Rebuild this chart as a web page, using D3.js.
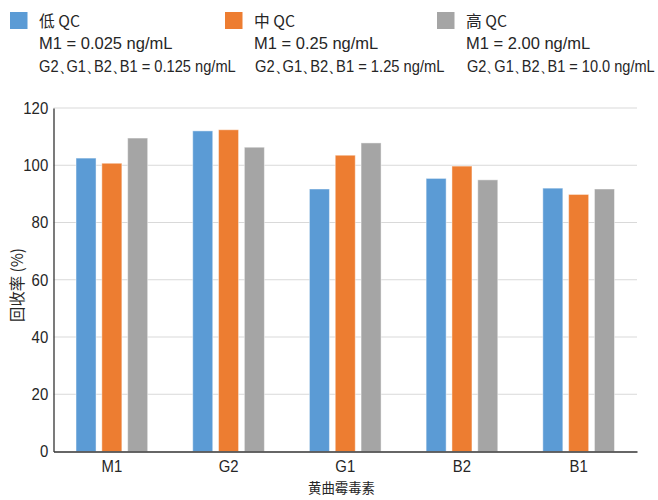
<!DOCTYPE html>
<html>
<head>
<meta charset="utf-8">
<script src="https://cdn.jsdelivr.net/npm/d3@7"></script>
<style>
  html, body { margin: 0; padding: 0; background: #fff; }
  svg { display: block; }
  .cond { font-family: "Liberation Sans", "Arial", sans-serif; }
  .cjk { font-family: "Noto Sans CJK SC", "Noto Sans", sans-serif; }
</style>
</head>
<body>
<svg id="chart" width="658" height="500"></svg>
<script>
// Toxins on the x axis
const categories = ["M1", "G2", "G1", "B2", "B1"];

// Recovery (%) per QC level
const lowQC  = [102.5, 112.0, 91.7, 95.4, 92.0];
const midQC  = [100.7, 112.4, 103.5, 99.7, 89.8];
const highQC = [109.5, 106.3, 107.8, 94.9, 91.7];

const seriesNames = ["低 QC", "中 QC", "高 QC"];
const seriesColors = ["#5B9BD5", "#ED7D31", "#A5A5A5"];
const seriesLine2 = ["M1 = 0.025 ng/mL", "M1 = 0.25 ng/mL", "M1 = 2.00 ng/mL"];
const seriesLine3 = ["G2、G1、B2、B1 = 0.125 ng/mL", "G2、G1、B2、B1 = 1.25 ng/mL", "G2、G1、B2、B1 = 10.0 ng/mL"];

const yTicks = [0, 20, 40, 60, 80, 100, 120];
const xTitle = "黄曲霉毒素";
const yTitle = "回收率 (%)";

const series = [lowQC, midQC, highQC];

const svg = d3.select("#chart");
const margin = { left: 53.5, right: 21, top: 108, bottom: 48.5 };
const W = 658, H = 500;
const plotW = W - margin.left - margin.right;
const plotH = H - margin.top - margin.bottom;
const textColor = "#262626";

// Squeeze a text horizontally so it spans the given width
function squeeze(sel, width, tx, ty, rot) {
  sel.each(function (d, i) {
    const w = typeof width === "function" ? width(d, i) : width;
    const natural = this.getComputedTextLength();
    const s = Math.min(1, w / natural);
    const px = typeof tx === "function" ? tx(d, i) : tx;
    d3.select(this).attr("transform",
      `translate(${px},${ty})` + (rot ? ` rotate(${rot})` : "") + ` scale(${s},1)`);
  });
}

const g = svg.append("g").attr("transform", `translate(${margin.left},${margin.top})`);

const x = d3.scaleBand().domain(categories).range([0, plotW]).paddingInner(0).paddingOuter(0);
const x1 = d3.scaleBand().domain(d3.range(series.length)).range([x.bandwidth() * 0.193, x.bandwidth() * 0.807]).paddingInner(0.225);
const y = d3.scaleLinear().domain([0, 120]).range([plotH, 0]);

// Horizontal gridlines
g.append("g")
  .selectAll("line")
  .data(yTicks.filter(t => t > 0))
  .join("line")
  .attr("x1", 0).attr("x2", plotW)
  .attr("y1", d => y(d)).attr("y2", d => y(d))
  .attr("stroke", "#d9d9d9").attr("stroke-width", 1.2);

// Bars
const groups = g.append("g")
  .selectAll("g")
  .data(categories)
  .join("g")
  .attr("transform", d => `translate(${x(d)},0)`);

groups.selectAll("rect")
  .data((d, i) => series.map((s, k) => ({ k, v: s[i] })))
  .join("rect")
  .attr("x", d => x1(d.k))
  .attr("width", x1.bandwidth())
  .attr("y", d => y(d.v))
  .attr("height", d => y(0) - y(d.v))
  .attr("fill", d => seriesColors[d.k])
  .attr("stroke", "#ffffff")
  .attr("stroke-opacity", 0.45)
  .attr("stroke-width", 1);

// Y axis (narrow lettering via horizontal scale)
const yAxis = g.append("g")
  .call(d3.axisLeft(y).tickValues(yTicks).tickSize(0).tickPadding(6));
yAxis.select(".domain").attr("stroke", "#333").attr("stroke-width", 1.3);
yAxis.selectAll("text")
  .attr("class", "cond")
  .attr("font-size", 17)
  .attr("fill", textColor)
  .attr("transform", "scale(0.88,1)");

// X axis
const xAxis = g.append("g")
  .attr("transform", `translate(0,${plotH})`)
  .call(d3.axisBottom(x).tickSize(0).tickPadding(9));
xAxis.select(".domain").attr("stroke", "#333").attr("stroke-width", 1.3);
xAxis.selectAll("text")
  .attr("class", "cond")
  .attr("font-size", 16)
  .attr("fill", textColor)
  .attr("transform", "scale(0.93,1)");

// Axis titles
svg.append("text")
  .attr("class", "cjk")
  .attr("text-anchor", "middle")
  .attr("font-size", 14)
  .attr("fill", textColor)
  .text(xTitle)
  .call(squeeze, 67, 341.5, 493);

svg.append("text")
  .attr("class", "cjk")
  .attr("text-anchor", "middle")
  .attr("font-size", 16)
  .attr("fill", textColor)
  .text(yTitle)
  .call(squeeze, 74, 23, 285, -90);

// Legend
const legendX = [10, 225, 437];
const legend = svg.append("g")
  .selectAll("g")
  .data(seriesNames)
  .join("g")
  .attr("transform", (d, i) => `translate(${legendX[i]},0)`);

legend.append("rect")
  .attr("x", 0).attr("y", 12)
  .attr("width", 17.5).attr("height", 17)
  .attr("fill", (d, i) => seriesColors[i]);

const line1Len = [41, 41, 41];
const line2Len = [140, 129, 130];
const line3Len = [197, 190, 188];
const line3X = [29, 30, 30];

legend.append("text")
  .attr("class", "cjk")
  .attr("font-size", 16)
  .attr("fill", textColor)
  .text(d => d)
  .call(squeeze, (d, i) => line1Len[i], 29, 27);

legend.append("text")
  .attr("class", "cond")
  .attr("font-size", 16.5)
  .attr("fill", textColor)
  .text((d, i) => seriesLine2[i])
  .call(squeeze, (d, i) => line2Len[i], 29, 49);

// Third line: the ideographic commas get a tighter advance
const line3 = legend.append("text")
  .attr("class", "cond")
  .attr("font-size", 16.5)
  .attr("fill", textColor);
line3.each(function (d, i) {
  const parts = seriesLine3[i].split("、");
  const t = d3.select(this);
  parts.forEach((p, j) => {
    t.append("tspan").text(p);
    if (j < parts.length - 1) {
      t.append("tspan").attr("letter-spacing", -8).text("、");
    }
  });
});
line3.call(squeeze, (d, i) => line3Len[i], (d, i) => line3X[i], 72);
</script>
</body>
</html>
